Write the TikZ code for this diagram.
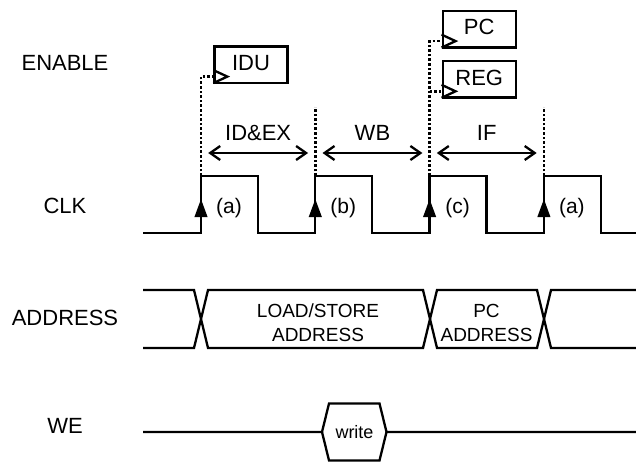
\documentclass[tikz,border=0pt]{standalone}
\usepackage{fontspec}
\setmainfont{Liberation Sans}
\usetikzlibrary{positioning,arrows.meta}

\begin{document}
\begin{tikzpicture}[x=1pt,y=-1pt,
	wave/.style={line width=2.3pt},
	trig/.style={line width=2.8pt,dash pattern=on 2.6pt off 2pt},
	regbox/.style={draw,line width=2.3pt,minimum width=73pt,minimum height=36.5pt,text depth=4pt,inner sep=0pt,font=\fontsize{22}{26}\selectfont},
	sig/.style={font=\fontsize{22}{26}\selectfont},
	lbl/.style={font=\fontsize{21}{25}\selectfont},
	bus/.style={align=center,font=\fontsize{19}{24}\selectfont},
	span/.style={line width=2.3pt,{Straight Barb[length=10pt,width=14pt]}-{Straight Barb[length=10pt,width=14pt]},shorten <=7.2pt,shorten >=7.2pt},
	rise/.style={line width=2.3pt,-{Triangle[length=18pt,width=12.5pt]}}]
	\useasboundingbox (0,0) rectangle (636,465);
	%% signal names
	\node[sig] (enable) at (65,63) {ENABLE};
	\node[sig] (clk) at (65,206) {CLK};
	\node[sig] (addr) at (65,318) {ADDRESS};
	\node[sig] (we) at (65,426) {WE};
	%% registers
	\node[regbox] (idu) at (251,64.7) {IDU};
	\node[regbox] (pc) at (479.2,29.2) {PC};
	\node[regbox] (reg) at (479.2,79.4) {REG};
	\foreach \r in {idu,pc,reg}{
		\draw[wave] ([yshift=1pt]\r.south west) -- ++(14,-6.5) -- ++(-14,-6.5);
		\coordinate (ck\r) at ([yshift=7.5pt]\r.south west);
	}
	%% clock
	\draw[wave] (143,233) foreach \x in {201,315.3,429.6,543.9}{ -- (\x,233) -- (\x,176) -- (\x+57,176) -- (\x+57,233) } -- (636,233);
	\foreach \i/\x/\t in {1/201/a,2/315.3/b,3/429.6/c,4/543.9/a}{
		\coordinate (e\i) at (\x,176);
		\coordinate (s\i) at (\x,153);
		\draw[rise] (\x,219) -- (\x,199);
		\node[lbl] (edge\i) at (\x+28,208) {(\t)};
	}
	%% trigger lines
	\draw[trig] (e1) |- (ckidu);
	\draw[trig] (e3) |- (ckpc);
	\draw[trig] (e3 |- ckreg) -- (ckreg);
	\draw[trig] (e2) -- ++(0,-69);
	\draw[trig] (e4) -- ++(0,-69);
	%% phases
	\draw[span] (s1) -- (s2) node[sig,midway,yshift=20pt] (idex) {ID\&EX};
	\draw[span] (s2) -- (s3) node[sig,midway,yshift=20pt] (wb) {WB};
	\draw[span] (s3) -- (s4) node[sig,midway,yshift=20pt] (if) {IF};
	%% address bus
	\draw[wave] (143,290) -- (194,290) -- (208,348) -- (423,348) -- (437,290) -- (537,290) -- (551,348) -- (636,348);
	\draw[wave] (143,348) -- (194,348) -- (208,290) -- (423,290) -- (437,348) -- (537,348) -- (551,290) -- (636,290);
	\node[bus] (lsaddr) at (318,323) {LOAD/STORE\\ADDRESS};
	\node[bus] (pcaddr) at (486.5,323) {PC\\ADDRESS};
	%% write enable
	\draw[wave] (143,432) -- (322,432) -- (329,403.5) -- (379.5,403.5) -- (386.5,432) -- (636,432);
	\draw[wave] (322,432) -- (329,460.5) -- (379.5,460.5) -- (386.5,432);
	\node[font=\fontsize{18}{20}\selectfont] (wr) at (354.5,432) {write};
\end{tikzpicture}
\end{document}
